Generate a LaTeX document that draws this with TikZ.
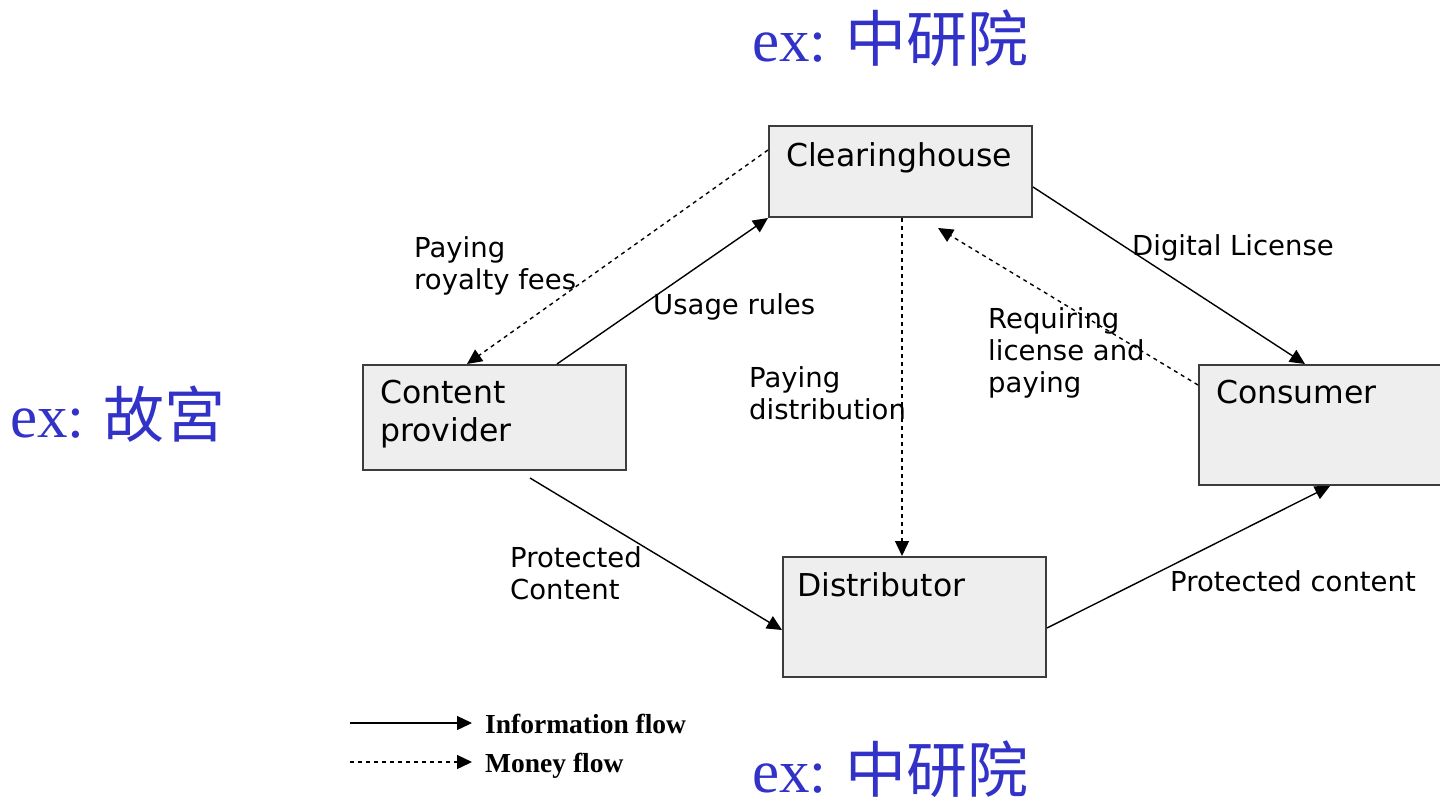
\documentclass[tikz,border=0pt]{standalone}
\usepackage{fontspec}
\setmainfont{Liberation Serif}
\setsansfont{DejaVu Sans}
\newfontfamily\cjkfont{Noto Sans CJK TC}
\usetikzlibrary{arrows.meta}
\definecolor{exblue}{RGB}{50,50,200}
\definecolor{boxfill}{RGB}{238,238,238}
\definecolor{boxline}{RGB}{60,60,60}

\begin{document}
\begin{tikzpicture}[x=1pt,y=-1pt,
  entity/.style={draw=boxline,line width=2pt,fill=boxfill,inner sep=0pt,anchor=north west},
  boxtext/.style={font=\sffamily\fontsize{31.5}{38}\selectfont,anchor=north west,inner sep=0pt,align=left},
  flowlabel/.style={font=\sffamily\fontsize{27.5}{32}\selectfont,anchor=north west,inner sep=0pt,align=left},
  info/.style={line width=1.4pt,-{Triangle[length=15pt,width=14pt]}},
  money/.style={info,dash pattern=on 4pt off 4pt},
  example/.style={text=exblue,anchor=base west,inner sep=0pt,font=\fontsize{61}{61}\selectfont},
  legendtext/.style={font=\bfseries\fontsize{27.5}{27.5}\selectfont,anchor=base west,inner sep=0pt},
]
\useasboundingbox (0,0) rectangle (1440,808);

% parties of the licensing system
\node[entity,minimum width=263pt,minimum height=91pt]  (ch) at (768,125) {};
\node[entity,minimum width=263pt,minimum height=105pt] (cp) at (362,364) {};
\node[entity,minimum width=262pt,minimum height=120pt] (cs) at (1198,364) {};
\node[entity,minimum width=263pt,minimum height=120pt] (ds) at (782,556) {};

\node[boxtext] (chT) at (786,142) {Clearinghouse};
\node[boxtext] (cpT) at (380,380) {Content\\provider};
\node[boxtext] (csT) at (1216,380) {Consumer};
\node[boxtext] (dsT) at (797,572) {Distributor};

% information flows
\draw[info] ([xshift=195pt]cp.north west) -- (ch.south west);
\draw[info] ([yshift=-62pt]ch.north east) -- ([xshift=107pt]cs.north west);
\draw[info] ([xshift=168pt,yshift=-7pt]cp.south west) -- ([yshift=-74pt]ds.north west);
\draw[info] ([yshift=-72pt]ds.north east) -- ([xshift=132pt]cs.south west);

% money flows
\coordinate (chFee) at ([xshift=170pt,yshift=-10pt]ch.south west);
\draw[money] ([yshift=-25pt]ch.north west) -- ([xshift=105pt]cp.north west);
\draw[money] ([yshift=-21pt]cs.north west) -- (chFee);
\draw[money] ([xshift=134pt]ch.south west) -- ([xshift=120pt]ds.north west);

% flow labels
\node[flowlabel] (lRoy)  at (414,236) {Paying\\royalty fees};
\node[flowlabel] (lUse)  at (653,293) {Usage rules};
\node[flowlabel] (lDist) at (749,366) {Paying\\distribution};
\node[flowlabel] (lLic)  at (1132,234) {Digital License};
\node[flowlabel] (lReq)  at (988,307) {Requiring\\license and\\paying};
\node[flowlabel] (lPC)   at (510,546) {Protected\\Content};
\node[flowlabel] (lPc)   at (1170,570) {Protected content};

% legend
\coordinate (infA) at (350,723);
\coordinate (infB) at (472,723);
\coordinate (monA) at (350,762);
\coordinate (monB) at (472,762);
\draw[info] (infA) -- (infB);
\draw[money] (monA) -- (monB);
\node[legendtext] (legInf) at (485,733) {Information flow};
\node[legendtext] (legMon) at (485,772) {Money flow};

% examples
\node[example] (exTop) at (752,62) {ex:\hspace{0.3em}{\cjkfont 中研院}};
\node[example] (exLeft) at (10,437) {ex:\hspace{0.3em}{\cjkfont 故宮}};
\node[example] (exBot) at (752,792) {ex:\hspace{0.3em}{\cjkfont 中研院}};
\end{tikzpicture}
\end{document}
